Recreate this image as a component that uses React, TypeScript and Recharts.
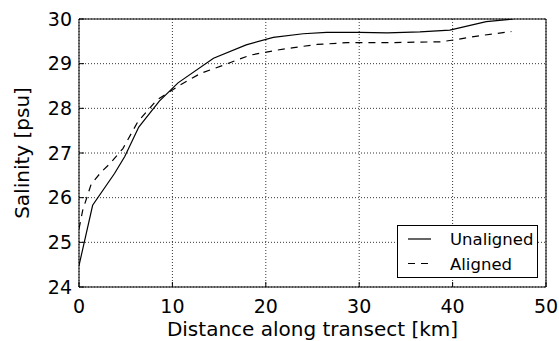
import React from 'react';
import { LineChart, Line, XAxis, YAxis, CartesianGrid, Legend, Label } from 'recharts';

// distance along transect [km] and salinity [psu] for each profile
const distUnaligned = [0, 1.46, 3.8, 4.9, 6.4, 8.6, 10.6, 14.4, 17.9, 20.8, 24, 26.5, 30, 33, 36.5, 39.7, 43.6, 46.5];
const salUnaligned = [24.48, 25.83, 26.54, 26.92, 27.58, 28.16, 28.57, 29.12, 29.42, 29.59, 29.67, 29.7, 29.7, 29.69, 29.71, 29.75, 29.94, 30.0];

const distAligned = [0, 0.4, 1.3, 2.4, 3.3, 4.7, 6.3, 8.3, 10.8, 13, 15.5, 18.3, 21.1, 23, 25.5, 28.7, 33, 38.7, 40.1, 43, 46.3];
const salAligned = [25.3, 25.72, 26.3, 26.58, 26.76, 27.1, 27.7, 28.18, 28.52, 28.78, 28.97, 29.19, 29.3, 29.36, 29.43, 29.47, 29.47, 29.49, 29.53, 29.63, 29.72];

const xTicks = [0, 10, 20, 30, 40, 50];
const yTicks = [24, 25, 26, 27, 28, 29, 30];

const seriesNames = ['Unaligned', 'Aligned'];

const unaligned = distUnaligned.map((d, i) => ({ d, s: salUnaligned[i] }));
const aligned = distAligned.map((d, i) => ({ d, s: salAligned[i] }));

const FONT = '"DejaVu Sans", sans-serif';
const DASH = '7 6';

const SalinityLegend = () => (
  <svg width={141} height={53} style={{ display: 'block' }}>
    <rect x={0.5} y={0.5} width={140} height={52} fill="#fff" stroke="#000" strokeWidth={1} />
    {seriesNames.map((name, i) => {
      const cy = 14 + i * 24.5;
      return (
        <g key={name}>
          <line x1={11} x2={34} y1={cy} y2={cy} stroke="#000" strokeWidth={1.2}
            strokeDasharray={i === 1 ? DASH : undefined} />
          <text x={53} y={cy + 6} fontFamily={FONT} fontSize={16.5} fill="#000">{name}</text>
        </g>
      );
    })}
  </svg>
);

const tickStyle = { fontFamily: FONT, fontSize: 19, fill: '#000' };

export default function App() {
  return (
    <div style={{ position: 'absolute', left: 0, top: 0, background: '#fff' }}>
      <LineChart width={559} height={341} margin={{ top: 18, right: 12, bottom: 0, left: 0 }}>
        <CartesianGrid stroke="#000" strokeDasharray="1 2" strokeWidth={0.8} />
        <XAxis dataKey="d" type="number" domain={[0, 50]} ticks={xTicks} allowDataOverflow
          height={54} tickSize={-5} tickMargin={18} stroke="#000" tick={tickStyle}>
          <Label value="Distance along transect [km]" position="insideBottom" offset={5}
            style={{ fontFamily: FONT, fontSize: 20, fill: '#000' }} />
        </XAxis>
        <XAxis xAxisId="top" orientation="top" type="number" domain={[0, 50]} ticks={xTicks}
          allowDataOverflow height={1} tickSize={-5} tick={false} stroke="#000" />
        <YAxis type="number" domain={[24, 30]} ticks={yTicks} allowDataOverflow width={79}
          tickSize={-5} tickMargin={12} stroke="#000" tick={tickStyle}>
          <Label value="Salinity [psu]" angle={-90} position="center" dx={-17.5}
            style={{ fontFamily: FONT, fontSize: 20, fill: '#000', textAnchor: 'middle' }} />
        </YAxis>
        <YAxis yAxisId="right" orientation="right" type="number" domain={[24, 30]} ticks={yTicks}
          allowDataOverflow width={1} tickSize={-5} tick={false} stroke="#000" />
        <Line data={unaligned} dataKey="s" name={seriesNames[0]} type="linear" stroke="#000"
          strokeWidth={1.2} dot={false} activeDot={false} isAnimationActive={false} />
        <Line data={aligned} dataKey="s" name={seriesNames[1]} type="linear" stroke="#000"
          strokeWidth={1.2} strokeDasharray={DASH} dot={false} activeDot={false} isAnimationActive={false} />
        <Legend layout="horizontal" align="center" verticalAlign="middle" content={SalinityLegend}
          wrapperStyle={{ left: 397, top: 225, width: 141, height: 53 }} />
      </LineChart>
    </div>
  );
}
